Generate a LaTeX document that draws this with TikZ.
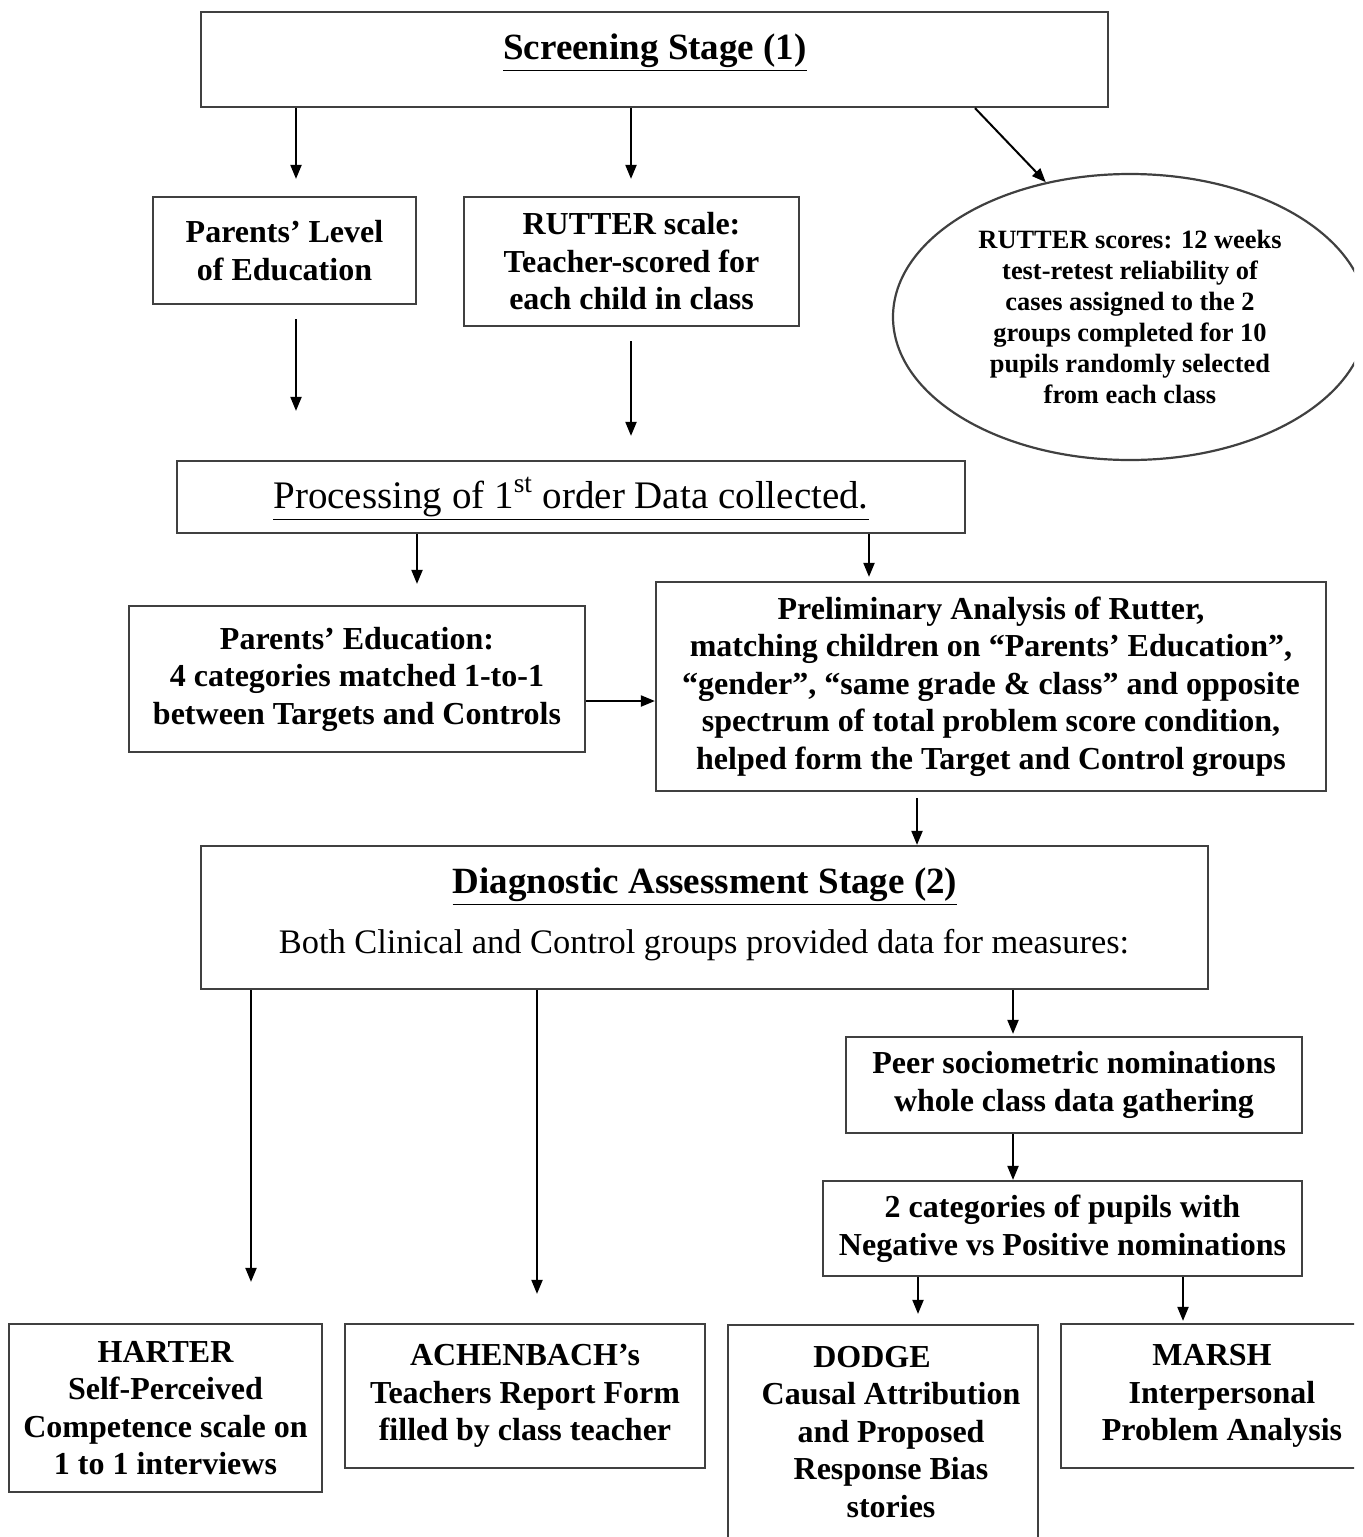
\documentclass[tikz,border=0pt]{standalone}
\usepackage{fontspec}
\setmainfont{Liberation Serif}
\usetikzlibrary{arrows.meta,shapes.geometric,calc}
\newcommand\fcbody{\fontsize{16}{18.75}\selectfont\bfseries}
\newcommand\fcell{\fontsize{13.2}{15.5}\selectfont\bfseries}
\newcommand\fctitle{\fontsize{18.5}{22}\selectfont\bfseries}
\newcommand\fcproc{\fontsize{19.5}{23}\selectfont}
\newcommand\fcboth{\fontsize{17.2}{20}\selectfont}
\begin{document}
\begin{tikzpicture}[x=0.5pt,y=-0.5pt,
  box/.style={draw=black!75, line width=1.1pt, inner sep=0pt, align=center, font=\fcbody},
  arr/.style={-{Triangle[length=7pt,width=5.5pt]}, line width=1pt, black},
  plain/.style={inner sep=0pt, align=center}]
\useasboundingbox (0,0) rectangle (1363,1537);
\begin{scope}
\clip (0,0) rectangle (1354,1537);

% Screening stage
\node[box, minimum width=453.5pt, minimum height=47.5pt] (screen) at (654.5,59.5) {};
\node[plain, font=\fctitle] (screenT) at (655,53) {\underline{Screening Stage (1)}};

\node[box, minimum width=131.5pt, minimum height=53.5pt] (plevel) at (284.5,250.5)
  {Parents’ Level\\of Education};
\node[box, minimum width=167.5pt, minimum height=64.5pt] (rutter) at (631.5,261.5)
  {RUTTER scale:\\Teacher-scored for\\each child in class};
\node[draw=black!75, line width=1.1pt, ellipse, minimum width=237pt, minimum height=143pt,
  inner sep=0pt, align=center, font=\fcell] (rutE) at (1130,317)
  {RUTTER scores: 12 weeks\\test-retest reliability of\\cases assigned to the 2\\groups completed for 10\\pupils randomly selected\\from each class};

% Processing of first order data
\node[box, minimum width=394pt, minimum height=36pt] (proc) at (571,497) {};
\node[plain, font=\fcproc] (procT) at (571,499) {\underline{Processing of 1\textsuperscript{st} order Data collected.}};

\node[box, minimum width=228pt, minimum height=73pt] (pedu) at (357,679)
  {Parents’ Education:\\4 categories matched 1-to-1\\between Targets and Controls};
\node[box, minimum width=335pt, minimum height=104.5pt] (prelim) at (991,686.5)
  {Preliminary Analysis of Rutter,\\matching children on “Parents’ Education”,\\“gender”, “same grade \& class” and opposite\\spectrum of total problem score condition,\\helped form the Target and Control groups};

% Diagnostic assessment stage
\node[box, minimum width=503.5pt, minimum height=71.5pt] (diag) at (704.5,917.5) {};
\node[plain, font=\fctitle] (diagT) at (705,887) {\underline{Diagnostic Assessment Stage (2)}};
\node[plain, font=\fcboth] (diagS) at (704,945) {Both Clinical and Control groups provided data for measures:};

\node[box, minimum width=228pt, minimum height=48pt] (peer) at (1074,1085)
  {Peer sociometric nominations\\whole class data gathering};
\node[box, minimum width=239.5pt, minimum height=47.5pt] (cats) at (1062.5,1228.5)
  {2 categories of pupils with\\Negative vs Positive nominations};

% Measures
\node[box, minimum width=156.5pt, minimum height=84pt] (harter) at (165.5,1408)
  {HARTER\\Self-Perceived\\Competence scale on\\1 to 1 interviews};
\node[box, minimum width=180pt, minimum height=72pt] (achen) at (525,1396)
  {ACHENBACH’s\\Teachers Report Form\\filled by class teacher};
\node[box, minimum width=155pt, minimum height=115pt] (dodge) at (883,1440) {};
\node[plain, font=\fcbody] (dodgeT) at (891,1432)
  {DODGE\hspace*{19pt}\\Causal Attribution\\and Proposed\\Response Bias\\stories};
\node[box, minimum width=161pt, minimum height=72pt] (marsh) at (1222,1396)
  {MARSH\hspace*{10pt}\\Interpersonal\\Problem Analysis};

% Connectors
\draw[arr, shorten >=8.5pt] (296,0 |- screen.south) -- (296,0 |- plevel.north);
\draw[arr, shorten >=8.5pt] (631,0 |- screen.south) -- (631,0 |- rutter.north);
\draw[arr] (975,0 |- screen.south) -- (rutE.122.5);
\draw[arr, shorten <=7pt, shorten >=24.5pt] (296,0 |- plevel.south) -- (296,0 |- proc.north);
\draw[arr, shorten <=7pt, shorten >=12pt] (631,0 |- rutter.south) -- (631,0 |- proc.north);
\draw[arr, shorten >=10.5pt] (417,0 |- proc.south) -- (417,0 |- pedu.north);
\draw[arr, shorten >=2pt] (869,0 |- proc.south) -- (869,0 |- prelim.north);
\draw[arr] (pedu.east |- 0,701) -- (prelim.west |- 0,701);
\draw[arr, shorten <=3pt] (917,0 |- prelim.south) -- (917,0 |- diag.north);
\draw[arr, shorten >=20.5pt] (251,0 |- diag.south) -- (251,0 |- harter.north);
\draw[arr, shorten >=14.5pt] (537,0 |- diag.south) -- (537,0 |- achen.north);
\draw[arr, shorten >=1pt] (1013,0 |- diag.south) -- (1013,0 |- peer.north);
\draw[arr] (1013,0 |- peer.south) -- (1013,0 |- cats.north);
\draw[arr, shorten >=5pt] (918,0 |- cats.south) -- (918,0 |- dodge.north);
\draw[arr, shorten >=1pt] (1183,0 |- cats.south) -- (1183,0 |- marsh.north);
\end{scope}
\end{tikzpicture}
\end{document}
